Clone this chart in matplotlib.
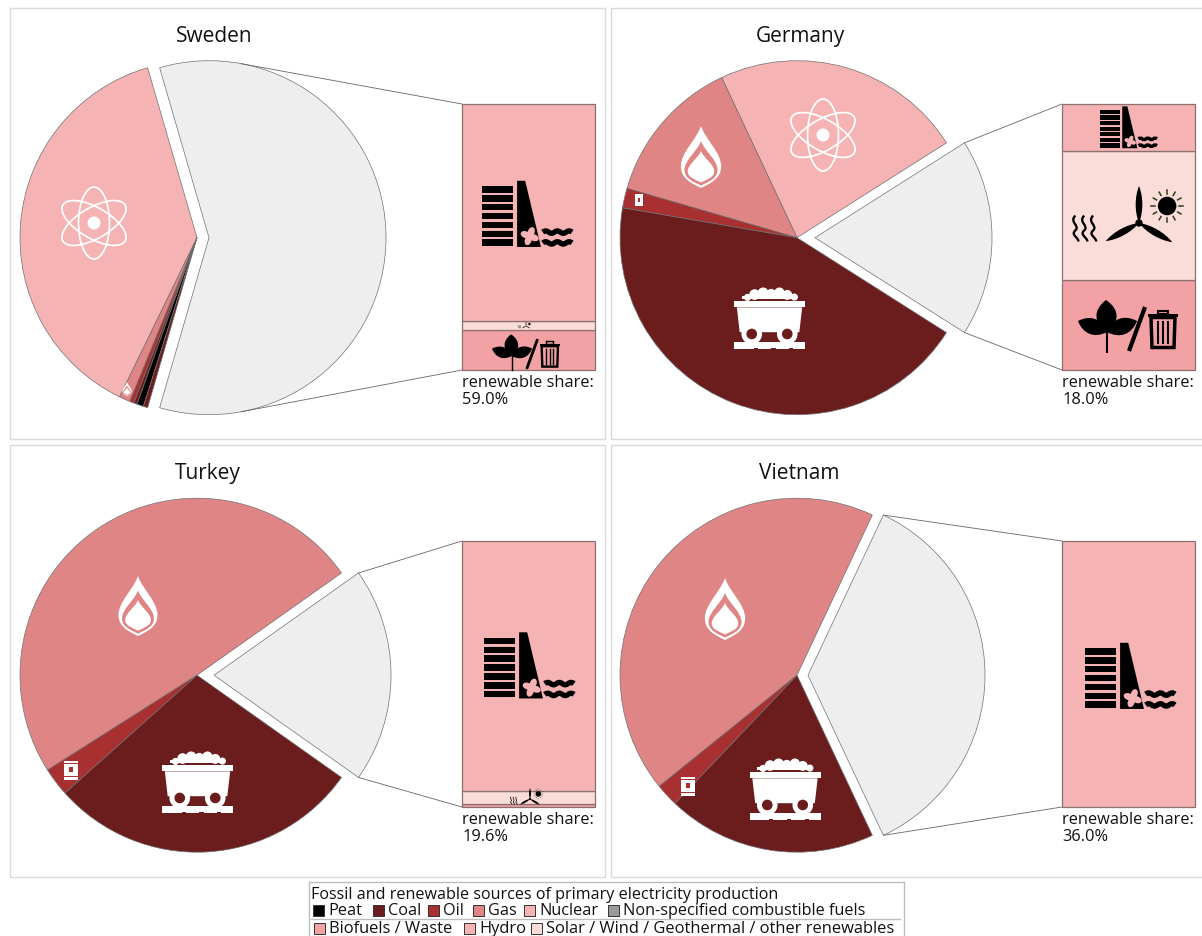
#!/usr/bin/env python3

import numpy as np
import matplotlib
matplotlib.use("Agg")
import matplotlib.pyplot as plt
from matplotlib.patches import Circle, Ellipse, PathPatch, Polygon, Rectangle
from matplotlib.path import Path
from matplotlib.transforms import Affine2D

plt.rcParams['font.family'] = ['Open Sans', 'DejaVu Sans']

W, H = 1202, 937

countries = ["Sweden", "Germany", "Turkey", "Vietnam"]
renewable_share = [59.0, 18.0, 19.6, 36.0]

# counter-clockwise from the upper edge of the renewable slice
sweden_sources = ["Nuclear", "Gas", "Oil", "Coal", "Peat", "Coal"]
sweden_values = [38.3, 1.0, 0.4, 0.3, 0.6, 0.4]
germany_sources = ["Nuclear", "Gas", "Oil", "Coal"]
germany_values = [23.0, 13.5, 1.8, 43.7]
turkey_sources = ["Gas", "Oil", "Coal"]
turkey_values = [49.2, 2.6, 28.6]
vietnam_sources = ["Gas", "Oil", "Coal"]
vietnam_values = [42.8, 2.1, 19.1]

# renewable breakdown, bottom of the bar to the top
bar_sources = ["Biofuels / Waste", "Solar / Wind / Geothermal / other renewables", "Hydro"]
sweden_bar = [8.9, 2.0, 48.1]
germany_bar = [6.1, 8.7, 3.2]
turkey_bar = [0.25, 0.95, 18.4]
vietnam_bar = [0.0, 0.0, 36.0]

legend_title = "Fossil and renewable sources of primary electricity production"
legend_row1 = ["Peat", "Coal", "Oil", "Gas", "Nuclear", "Non-specified combustible fuels"]
legend_row2 = ["Biofuels / Waste", "Hydro", "Solar / Wind / Geothermal / other renewables"]

COLORS = {
    "Peat": "#000000",
    "Coal": "#6b1d1d",
    "Oil": "#a83030",
    "Gas": "#e08585",
    "Nuclear": "#f5b3b4",
    "Non-specified combustible fuels": "#9a9a9a",
    "Biofuels / Waste": "#f2a1a4",
    "Hydro": "#f5b3b4",
    "Solar / Wind / Geothermal / other renewables": "#fadcd8",
}
RENEWABLE_GREY = "#eeeeee"
FRAME_GREY = "#dadada"
R = 177

fig = plt.figure(figsize=(W / 100, H / 100), dpi=100, facecolor="white")

# pies live on a y-up pixel axes, everything else on a y-down overlay
ax_pie = fig.add_axes([0, 0, 1, 1], zorder=0)
ov = fig.add_axes([0, 0, 1, 1], zorder=2)
ov.set_xlim(0, W)
ov.set_ylim(H, 0)
ov.axis("off")
ov.patch.set_alpha(0)


def at(cx, cy, s):
    return Affine2D().scale(s).translate(cx, cy) + ov.transData


def fill_path(verts, codes, color, tr, lw=0):
    ov.add_patch(PathPatch(Path(verts, codes), facecolor=color, edgecolor=color, lw=lw, transform=tr))


def draw_atom(cx, cy, s):
    tr = at(cx, cy, s)
    for angle in (90, 30, -30):
        ov.add_patch(Ellipse((0, 0), 2, 0.86, angle=angle, fill=False, edgecolor="white",
                             lw=s * 0.035, transform=tr))
    ov.add_patch(Circle((0, 0), 0.18, color="white", lw=0, transform=tr))


def draw_flame(cx, cy, s, bg):
    tr = at(cx, cy, s)
    C = Path.CURVE4

    def drop(k, dy, width):
        pts = np.array([(0, -1), (0.15, -0.55), (width, -0.15), (width, 0.3),
                         (width, 0.7), (0.3, 0.85), (0, 1), (-0.3, 0.85),
                         (-width, 0.7), (-width, 0.3), (-width, -0.15), (-0.15, -0.55), (0, -1)])
        return pts * k + np.array([0, dy])

    codes = [Path.MOVETO] + [C] * 12
    fill_path(drop(1.0, 0, 0.65), codes, "white", tr)
    fill_path(drop(0.72, 0.2, 0.74), codes, bg, tr)
    fill_path(drop(0.51, 0.31, 0.84), codes, "white", tr)


def draw_barrel(cx, cy, s, bg):
    tr = at(cx, cy, s)
    ov.add_patch(Rectangle((-0.72, -1), 1.44, 2, color="white", lw=0, transform=tr))
    ov.add_patch(Rectangle((-0.72, 0.62), 1.44, 0.1, color=bg, lw=0, transform=tr))
    ov.add_patch(Rectangle((-0.72, -0.7), 1.44, 0.08, color=bg, lw=0, transform=tr))
    ov.add_patch(Rectangle((-0.2, -0.3), 0.4, 0.55, color=bg, lw=0, transform=tr))


def draw_cart(cx, cy, s, bg):
    tr = at(cx, cy, s)
    # heap of coal on top of the tub
    for x, y, r in [(-0.62, -0.58, 0.1), (-0.42, -0.66, 0.15), (-0.18, -0.71, 0.15), (0.05, -0.68, 0.14),
                    (0.28, -0.72, 0.14), (0.5, -0.65, 0.14), (0.7, -0.59, 0.1)]:
        ov.add_patch(Circle((x, y), r, color="white", lw=0, transform=tr))
    ov.add_patch(Rectangle((-0.78, -0.62), 1.56, 0.09, color="white", lw=0, transform=tr))
    ov.add_patch(Rectangle((-1, -0.49), 2, 0.19, color="white", lw=0, transform=tr))
    ov.add_patch(Polygon([(-0.92, -0.3), (0.92, -0.3), (0.84, 0.4), (-0.84, 0.4)], color="white", lw=0, transform=tr))
    ov.add_patch(Rectangle((-0.3, 0.42), 0.6, 0.14, color=bg, lw=0, transform=tr))
    for x in (-0.5, 0.5):
        ov.add_patch(Circle((x, 0.45), 0.29, color="white", lw=0, transform=tr))
        ov.add_patch(Circle((x, 0.45), 0.15, color=bg, lw=0, transform=tr))
    ov.add_patch(Rectangle((-1, 0.69), 2, 0.19, color="white", lw=0, transform=tr))
    for x in (-0.45, 0.05, 0.55):
        ov.add_patch(Rectangle((x, 0.84), 0.12, 0.04, color=bg, lw=0, transform=tr))


def wave(x0, x1, y, amp):
    step = (x1 - x0) / 5
    verts = [(x0, y)]
    for i in range(5):
        sign = -1 if i % 2 == 0 else 1
        a = x0 + i * step
        verts += [(a + step * 0.35, y + sign * amp), (a + step * 0.65, y + sign * amp), (a + step, y)]
    return verts, [Path.MOVETO] + [Path.CURVE4] * 15


def draw_dam(cx, cy, s, bg):
    tr = at(cx, cy, s)
    for i in range(7):
        ov.add_patch(Rectangle((-1, -0.64 + i * 0.197), 0.69, 0.145, color="black", lw=0, transform=tr))
    ov.add_patch(Polygon([(-0.22, 0.71), (-0.22, -0.76), (-0.04, -0.76), (0.31, 0.71)], color="black", lw=0, transform=tr))
    for angle in (20, 110, 200, 290):
        a = np.deg2rad(angle)
        ov.add_patch(Ellipse((0.06 + 0.1 * np.cos(a), 0.47 + 0.1 * np.sin(a)), 0.22, 0.15, angle=angle,
                             color=bg, lw=0, transform=tr))
    for y in (0.38, 0.62):
        verts, codes = wave(0.35, 1.0, y, 0.035)
        ov.add_patch(PathPatch(Path(verts, codes), fill=False, edgecolor="black", lw=s * 0.085, transform=tr))


def leaf(base, tip, width):
    base, tip = np.array(base), np.array(tip)
    d = tip - base
    n = np.array([-d[1], d[0]])
    verts = [base, base + 0.3 * d + width * n, base + 0.7 * d + width * n, tip,
             base + 0.7 * d - width * n, base + 0.3 * d - width * n, base]
    return verts, [Path.MOVETO] + [Path.CURVE4] * 6


def draw_renewables(cx, cy, s):
    # hub of the turbine sits at (cx, cy)
    tr = at(cx, cy, s)
    for tip in [(0, -1.0), (-0.9, 0.49), (0.9, 0.52)]:
        verts, codes = leaf((0, 0), tip, 0.12)
        fill_path(verts, codes, "black", tr)
    ov.add_patch(Circle((0, 0), 0.1, color="black", lw=0, transform=tr))
    ov.add_patch(Circle((0.76, -0.46), 0.25, color="black", lw=0, transform=tr))
    for angle in range(0, 360, 30):
        a = np.deg2rad(angle)
        ov.plot([0.76 + 0.33 * np.cos(a), 0.76 + 0.43 * np.cos(a)],
                [-0.46 + 0.33 * np.sin(a), -0.46 + 0.43 * np.sin(a)],
                color="#2f3a1c", lw=s * 0.03, transform=tr)
    for x in (-1.72, -1.48, -1.24):
        verts = [(x, -0.2), (x - 0.18, -0.03), (x + 0.14, 0.08), (x, 0.2),
                 (x - 0.14, 0.32), (x + 0.1, 0.4), (x + 0.08, 0.5)]
        ov.add_patch(PathPatch(Path(verts, [Path.MOVETO] + [Path.CURVE4] * 6), fill=False, edgecolor="black",
                               lw=s * 0.045, transform=tr))


def draw_biofuel(cx, cy, s):
    tr = at(cx, cy, s)
    hub = (-0.42, 0.12)
    for tip, width in [((-0.44, -0.52), 0.42), ((-1.0, -0.1), 0.34), ((0.18, -0.1), 0.34)]:
        verts, codes = leaf(hub, tip, width)
        fill_path(verts, codes, "black", tr)
    ov.plot([hub[0], hub[0]], [hub[1], 0.52], color="black", lw=s * 0.03, transform=tr)
    ov.plot([0.34, 0.02], [-0.38, 0.5], color="black", lw=s * 0.06, solid_capstyle="butt", transform=tr)
    ov.add_patch(Rectangle((0.4, -0.24), 0.6, 0.05, color="black", lw=0, transform=tr))
    ov.add_patch(Rectangle((0.6, -0.31), 0.2, 0.07, fill=False, ec="black", lw=s * 0.03, transform=tr))
    ov.add_patch(Polygon([(0.46, -0.17), (0.94, -0.17), (0.92, 0.43), (0.48, 0.43)], closed=True, fill=False,
                         ec="black", lw=s * 0.05, transform=tr))
    for x in (0.6, 0.7, 0.8):
        ov.plot([x, x], [-0.08, 0.34], color="black", lw=s * 0.03, transform=tr)


def draw_country(i, sources, values, bar, explode, pie_c, bar_x, bar_y, frame, title_x):
    share = renewable_share[i]
    cx, cy = pie_c
    # pie, renewable slice first and centred on the +x direction
    ax_pie.pie([share] + values, colors=[RENEWABLE_GREY] + [COLORS[s] for s in sources],
               explode=[explode] + [0] * len(values), center=(cx, H - cy), radius=R,
               startangle=-share * 1.8, frame=True,
               wedgeprops={"edgecolor": "#707070", "linewidth": 0.5})

    # stacked bar for the renewable part
    bar_w, bar_h = 133, 266
    ax_bar = fig.add_axes([bar_x / W, 1 - (bar_y + bar_h) / H, bar_w / W, bar_h / H], zorder=1)
    bottom = 0
    for name, v in zip(bar_sources, bar):
        if v > 0:
            ax_bar.bar(0.5, v, width=1, bottom=bottom, color=COLORS[name], edgecolor="#8c6f6f", linewidth=0.9,
                       clip_on=False)
        bottom += v
    ax_bar.set_xlim(0, 1)
    ax_bar.set_ylim(0, share)
    ax_bar.axis("off")

    # connectors from the exploded slice to the bar corners
    half = np.deg2rad(min(share * 1.8, 79.5))
    ex = cx + explode + R * np.cos(half)
    dy = R * np.sin(half)
    ov.plot([ex, bar_x], [cy - dy, bar_y], color="#666666", lw=0.6)
    ov.plot([ex, bar_x], [cy + dy, bar_y + bar_h], color="#666666", lw=0.6)

    # panel frame and labels
    ov.add_patch(Rectangle(frame[:2], frame[2], frame[3], fill=False, edgecolor=FRAME_GREY, lw=1.0))
    ov.text(title_x, frame[1] + 27.5, countries[i], ha="center", va="center", fontsize=15, color="#111111")
    ov.text(bar_x, bar_y + bar_h + 12, "renewable share:", ha="left", va="center", fontsize=11.8, color="#111111")
    ov.text(bar_x, bar_y + bar_h + 29.5, f"{share:.1f}%", ha="left", va="center", fontsize=11.8, color="#111111")


draw_country(0, sweden_sources, sweden_values, sweden_bar, 12, (197, 238.7), 462, 105, (10, 9, 595, 431), 214)
draw_country(1, germany_sources, germany_values, germany_bar, 18, (797, 238.7), 1062, 105, (611, 9, 595, 431), 800)
draw_country(2, turkey_sources, turkey_values, turkey_bar, 17, (197, 676.2), 462, 542, (10, 446, 595, 432), 207.5)
draw_country(3, vietnam_sources, vietnam_values, vietnam_bar, 11, (797, 676.2), 1062, 542, (611, 446, 595, 432), 799)

ax_pie.set_xlim(0, W)
ax_pie.set_ylim(0, H)
ax_pie.set_aspect("auto")
ax_pie.axis("off")

# Sweden
draw_atom(94, 224, 36)
draw_flame(127, 390, 7, COLORS["Gas"])
draw_dam(527, 216, 45, COLORS["Hydro"])
draw_renewables(526, 327, 4.5)
draw_biofuel(526, 353, 34)
# Germany
draw_atom(823, 136, 36)
draw_flame(701, 158, 31, COLORS["Gas"])
draw_barrel(639, 201, 6, COLORS["Oil"])
draw_cart(769.5, 319, 35.5, COLORS["Coal"])
draw_dam(1128.5, 129, 28.5, COLORS["Hydro"])
draw_renewables(1139, 224, 37)
draw_biofuel(1128, 327, 50)
# Turkey
draw_flame(138, 607, 30, COLORS["Gas"])
draw_barrel(71, 771, 9.5, COLORS["Oil"])
draw_cart(197.5, 783, 35.5, COLORS["Coal"])
draw_dam(529, 667.5, 45, COLORS["Hydro"])
draw_renewables(530, 800, 11)
# Vietnam
draw_flame(725, 610, 31, COLORS["Gas"])
draw_barrel(688, 787, 9.5, COLORS["Oil"])
draw_cart(785, 790, 35.5, COLORS["Coal"])
draw_dam(1130, 678, 45, COLORS["Hydro"])

# legend box
ov.add_patch(Rectangle((309, 883), 595, 60, fill=False, edgecolor="#bdbdbd", lw=1.0))
ov.plot([311, 900], [920, 920], color="#bdbdbd", lw=1.0)
ov.text(311, 895, legend_title, ha="left", va="center", fontsize=11.6, color="#111111")
row1_swatch_x = [313, 373, 428, 473, 524, 608]
row2_swatch_x = [314, 464, 531]
for names, xs, y, size in [(legend_row1, row1_swatch_x, 911, 11.7), (legend_row2, row2_swatch_x, 929, 11.9)]:
    for name, x in zip(names, xs):
        ov.add_patch(Rectangle((x, y - 5.5), 11, 11, facecolor=COLORS[name], edgecolor="#333333", lw=0.7))
        ov.text(x + 15, y + 0.5, name, ha="left", va="center", fontsize=size, color="#111111", clip_on=True)

fig.savefig("out.png", dpi=100)
